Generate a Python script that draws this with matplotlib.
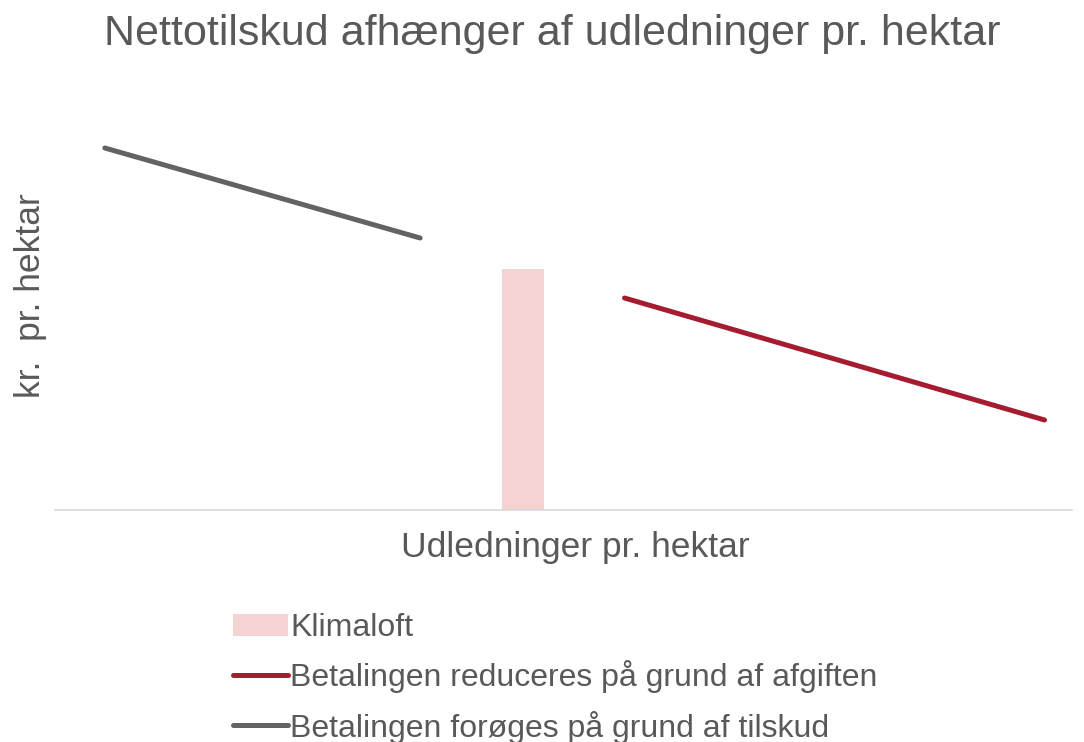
import matplotlib
matplotlib.use("Agg")
import matplotlib.pyplot as plt
from matplotlib.patches import Patch
from matplotlib.lines import Line2D

plt.rcParams['font.family'] = ['Liberation Sans', 'DejaVu Sans']

title = "Nettotilskud afhænger af udledninger pr. hektar"
xlabel = "Udledninger pr. hektar"
ylabel = "kr.  pr. hektar"

# Series (arbitrary units, no scale shown)
grey_x = [4.9, 35.9]
grey_y = [90.5, 68.0]
red_x = [56.0, 97.3]
red_y = [53.0, 22.5]
bar_x = [46.0]
bar_h = [60.25]

labels = ["Klimaloft",
          "Betalingen reduceres på grund af afgiften",
          "Betalingen forøges på grund af tilskud"]

txt = "#595959"
red = "#A51C30"
grey = "#636363"
pink = "#F4D4D2"

fig = plt.figure(figsize=(10.84, 7.42), dpi=100)
ax = fig.add_axes([55/1084, 1-510/742, (1072-55)/1084, (510-110)/742])
ax.bar(bar_x, bar_h, width=4.1, color=pink, zorder=1)
ax.plot(red_x, red_y, color=red, lw=3.6, solid_capstyle='round', zorder=2)
ax.plot(grey_x, grey_y, color=grey, lw=3.6, solid_capstyle='round', zorder=2)
ax.set_xlim(0, 100)
ax.set_ylim(0, 100)
for s in ['top', 'right', 'left']:
    ax.spines[s].set_visible(False)
ax.spines['bottom'].set_color('#D9D9D9')
ax.spines['bottom'].set_linewidth(1.2)
ax.set_xticks([])
ax.set_yticks([])

fig.text(552/1084, 1-34/742, title, ha='center', va='center', fontsize=31, color=txt)
fig.text(575/1084, 1-548/742, xlabel, ha='center', va='center', fontsize=25.5, color=txt)
fig.text(31/1084, 1-296/742, ylabel, ha='center', va='center', rotation=90, fontsize=25.5, color=txt)

handles = [Patch(facecolor=pink, edgecolor='none'),
           Line2D([], [], color=red, lw=3.6, solid_capstyle='round'),
           Line2D([], [], color=grey, lw=3.6, solid_capstyle='round')]
leg = fig.legend(handles, labels, loc='upper left', bbox_to_anchor=(233/1084, 1-613/742),
                 frameon=False, fontsize=23, handlelength=1.72, handletextpad=0.08,
                 labelspacing=0.54, borderpad=0, borderaxespad=0)
for t in leg.get_texts():
    t.set_color(txt)

fig.savefig("out.png", dpi=100)
